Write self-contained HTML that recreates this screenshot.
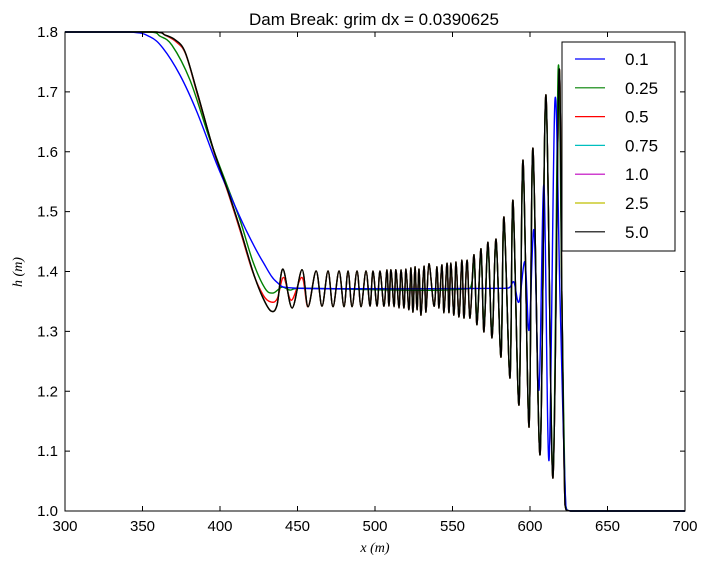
<!DOCTYPE html>
<html><head><meta charset="utf-8"><style>
body{margin:0;background:#fff;}
svg{display:block;font-family:"Liberation Sans",sans-serif;}
</style></head><body>
<svg id="chart" width="709" height="567"></svg>
<script>
const xTicks=[300,350,400,450,500,550,600,650,700];
const yTicks=[1.0,1.1,1.2,1.3,1.4,1.5,1.6,1.7,1.8];
const seriesNames=["0.1","0.25","0.5","0.75","1.0","2.5","5.0"];
const seriesColors=["#0000ff","#008000","#ff0000","#00bfbf","#bf00bf","#bfbf00","#000000"];
const blackX=[300,358.1,364.5,371,377.4,385.2,395.5,404.5,412.9,421.3,427.7,432.9,436.8,440.6,446.5,452.9,456.8,462,465.8,469.7,472.9,476.8,480,482.6,485.2,488.4,491,494.2,496.8,498.7,501.3,503.2,505.8,507.7,509,510.3,512.3,513.5,515.5,516.8,518.7,520,521.9,523.2,524.5,525.8,527.1,528.4,529.7,531.6,532.9,534.8,538.1,540,541.3,543.2,544.5,546.5,547.7,549,550.9,552.3,554.2,556.1,557.4,559.4,561.3,563.9,565.8,568.4,570.3,572.9,575.5,578.1,581.3,583.2,587.1,589,592.9,595.5,599.4,601.9,606.5,610.3,614.8,618.7,620.6,622.6,625.8,700];
const blackH=[1.8,1.8,1.795,1.787,1.767,1.7,1.606,1.539,1.472,1.399,1.356,1.334,1.344,1.404,1.339,1.403,1.341,1.401,1.342,1.401,1.341,1.401,1.341,1.401,1.341,1.401,1.341,1.401,1.342,1.401,1.342,1.401,1.342,1.403,1.342,1.403,1.341,1.403,1.339,1.403,1.339,1.404,1.336,1.406,1.332,1.408,1.336,1.404,1.327,1.409,1.332,1.413,1.342,1.408,1.339,1.411,1.331,1.414,1.331,1.414,1.327,1.416,1.324,1.419,1.322,1.419,1.322,1.428,1.311,1.438,1.299,1.449,1.289,1.454,1.257,1.491,1.222,1.519,1.177,1.586,1.14,1.606,1.094,1.695,1.055,1.733,1.352,1.01,1.0,1.0];
const blueX=[300,341.9,354.8,363.2,374.2,385.2,398.1,406.5,417.4,427.7,436.8,449.7,583.9,587.1,589.7,592.9,596.8,599.4,602.6,605.8,609,612.3,616.1,619.4,623.2,627.1,700];
const blueH=[1.8,1.8,1.792,1.773,1.728,1.666,1.578,1.528,1.466,1.416,1.382,1.372,1.372,1.374,1.382,1.349,1.416,1.302,1.469,1.202,1.544,1.085,1.686,1.352,1.005,1.0,1.0];
const greenX=[300,354.8,361.3,369,380.6,393.5,404.5,412.9,421.3,429,434.2,440,445.2,451.6,561.3,563.9,565.8,568.4,570.3,572.9,575.5,578.1,581.3,583.2,587.1,589,592.9,595.5,599.4,601.9,606.5,610.3,614.8,618.2,620.6,623,626.3,700];
const greenH=[1.8,1.8,1.793,1.778,1.72,1.62,1.544,1.486,1.416,1.372,1.364,1.374,1.369,1.372,1.372,1.42,1.32,1.43,1.31,1.44,1.295,1.45,1.26,1.485,1.225,1.515,1.18,1.58,1.145,1.6,1.1,1.69,1.06,1.74,1.35,1.01,1.0,1.0];
const redX=[300,358,365,372,378,386,396,405,413,421,428,433,437,441,446,452.9];
const redH=[1.8,1.8,1.794,1.783,1.762,1.69,1.6,1.533,1.468,1.4,1.36,1.349,1.355,1.39,1.352,1.39];

const NS="http://www.w3.org/2000/svg";
const svg=document.getElementById('chart');
const L=65,R=685,T=32,B=511;
const xS=v=>L+(v-300)/400*(R-L);
const yS=v=>B-(v-1.0)/0.8*(B-T);
function mk(tag,attrs,parent){const e=document.createElementNS(NS,tag);for(const k in attrs)e.setAttribute(k,attrs[k]);(parent||svg).appendChild(e);return e;}

const title=mk('text',{x:374,y:25,'text-anchor':'middle','font-size':17});
title.textContent='Dam Break: grim dx = 0.0390625';



const clampY=y=>Math.min(Math.max(y,T),B);
function pathFrom(xs,hs){
  const P=xs.map((v,i)=>[xS(v),yS(hs[i])]);
  let d='M'+P[0][0].toFixed(2)+','+P[0][1].toFixed(2);
  for(let i=0;i<P.length-1;i++){
    const p0=P[Math.max(0,i-1)],p1=P[i],p2=P[i+1],p3=P[Math.min(P.length-1,i+2)];
    const c1=[p1[0]+(p2[0]-p0[0])/6,clampY(p1[1]+(p2[1]-p0[1])/6)];
    const c2=[p2[0]-(p3[0]-p1[0])/6,clampY(p2[1]-(p3[1]-p1[1])/6)];
    c1[0]=Math.min(Math.max(c1[0],p1[0]),p2[0]);c2[0]=Math.min(Math.max(c2[0],p1[0]),p2[0]);
    d+=' C'+c1[0].toFixed(2)+','+c1[1].toFixed(2)+' '+c2[0].toFixed(2)+','+c2[1].toFixed(2)+' '+p2[0].toFixed(2)+','+p2[1].toFixed(2);
  }
  return d;
}
const plot=mk('g',{});


const redPrefix=redX.concat(blackX.filter(v=>v>452.9));
const redHs=redH.concat(blackH.filter((h,i)=>blackX[i]>452.9));
const lineData=[[blueX,blueH],[greenX,greenH],[redPrefix,redHs],[blackX,blackH],[blackX,blackH],[blackX,blackH],[blackX,blackH]];
const drawOrder=[2,3,4,5,1,0,6];
drawOrder.forEach(i=>{
  const p=mk('path',{d:pathFrom(lineData[i][0],lineData[i][1]),fill:'none',stroke:seriesColors[i],'stroke-width':1.4,'stroke-linejoin':'round'},plot);
  
  
});

mk('rect',{x:L,y:T,width:R-L,height:B-T,fill:'none',stroke:'#000','stroke-width':1});
xTicks.forEach(v=>{
  const x=xS(v);
  mk('line',{x1:x,y1:B,x2:x,y2:B-5,stroke:'#000'});
  mk('line',{x1:x,y1:T,x2:x,y2:T+5,stroke:'#000'});
  const t=mk('text',{x:x,y:B+20,'text-anchor':'middle','font-size':15});
  t.textContent=v;
  
  
});
yTicks.forEach(v=>{
  const y=yS(v);
  mk('line',{x1:L,y1:y,x2:L+5,y2:y,stroke:'#000'});
  mk('line',{x1:R,y1:y,x2:R-5,y2:y,stroke:'#000'});
  const t=mk('text',{x:L-7,y:y+5,'text-anchor':'end','font-size':15});
  t.textContent=v.toFixed(1);
  
  
});
const xl=mk('text',{x:375,y:552,'text-anchor':'middle','font-size':14,'font-family':'Liberation Serif, serif','font-style':'italic'});
xl.textContent='x (m)';


const yl=mk('text',{x:0,y:0,'text-anchor':'middle','font-size':14,'font-family':'Liberation Serif, serif','font-style':'italic',transform:'translate(22,272) rotate(-90)'});
yl.textContent='h (m)';



const lg=mk('g',{});


mk('rect',{x:562,y:42,width:113,height:209,fill:'#fff',stroke:'#000','stroke-width':1},lg);
seriesNames.forEach((n,i)=>{
  const y=59+i*28.8;
  const ent=mk('g',{},lg);
  
  
  mk('line',{x1:575,y1:y,x2:605,y2:y,stroke:seriesColors[i],'stroke-width':1.2},ent);
  const t=mk('text',{x:625,y:y+6,'font-size':17},ent);
  t.textContent=n;
});
</script>
</body></html>
